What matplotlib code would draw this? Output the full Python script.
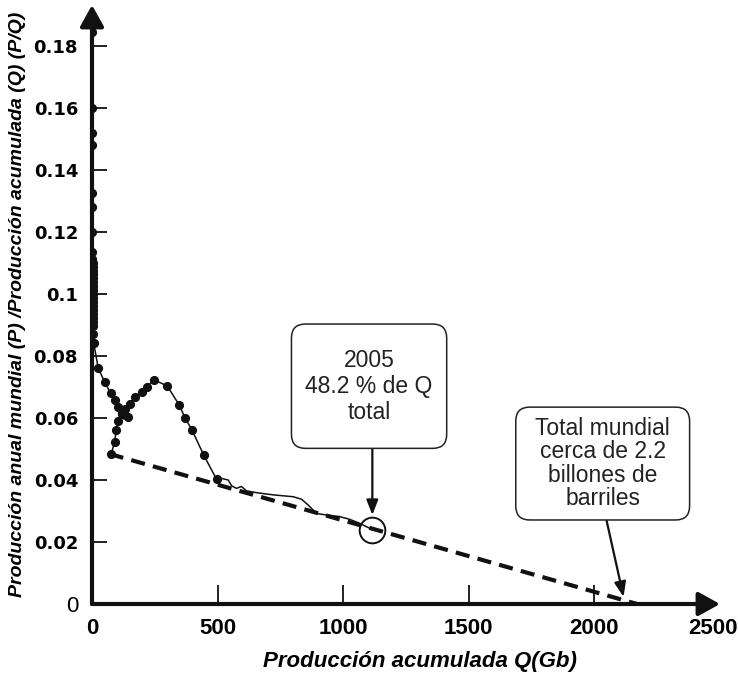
import matplotlib
matplotlib.use('Agg')
import matplotlib.pyplot as plt
import matplotlib.transforms as mtransforms
from matplotlib.patches import FancyBboxPatch
from matplotlib.font_manager import FontProperties

# early years: tiny cumulative output, points stacked along the vertical axis
q_early = [0.2, 0.4, 0.6, 0.8, 1.0, 1.2, 1.4, 1.6, 1.8, 2.0, 2.2, 2.4, 2.6, 2.8,
           3.0, 3.2, 3.4, 3.6, 3.8, 4.0, 4.2, 4.4, 4.6, 4.8, 5.0, 5.3, 5.8, 6.4,
           25, 50, 74, 90, 103, 118, 132, 145]
pq_early = [0.1845, 0.160, 0.152, 0.148, 0.1326, 0.128, 0.120, 0.1135, 0.1114,
            0.1101, 0.1088, 0.1075, 0.1064, 0.1051, 0.1038, 0.1025, 0.1012,
            0.0999, 0.0986, 0.0973, 0.0960, 0.0947, 0.0934, 0.0922, 0.0909,
            0.0897, 0.0871, 0.0843,
            0.0760, 0.0717, 0.0680, 0.0658, 0.0637, 0.0617, 0.0608, 0.0602]

# later series with yearly markers
q_marked = [77, 90, 97, 104, 118, 130, 150, 171, 198, 218, 247, 300, 347, 370,
            398, 445, 496]
pq_marked = [0.0484, 0.0524, 0.0561, 0.0590, 0.0612, 0.0628, 0.0644, 0.0667,
             0.0685, 0.0700, 0.0723, 0.0703, 0.0642, 0.0601, 0.0561, 0.0480,
             0.0402]

# most recent years, plain line up to 2005
q_recent = [496, 516, 542, 556, 575, 595, 615, 655, 721, 801, 834, 861, 894,
            933, 986, 1026, 1066, 1106, 1116]
pq_recent = [0.0402, 0.0405, 0.0400, 0.0381, 0.0373, 0.0379, 0.0365, 0.0359,
             0.0352, 0.0346, 0.0338, 0.0319, 0.0292, 0.0287, 0.0282, 0.0273,
             0.0260, 0.0244, 0.0239]

# straight-line fit of P/Q against Q
q_fit = [70, 2170]
pq_fit = [0.0484, 0.0]

q_2005 = 1116
pq_2005 = 0.0239

x_ticks = [0, 500, 1000, 1500, 2000, 2500]
x_tick_labels = ['0', '500', '1000', '1500', '2000', '2500']
y_ticks = [0, 0.02, 0.04, 0.06, 0.08, 0.1, 0.12, 0.14, 0.16, 0.18]
y_tick_labels = ['0', '0.02', '0.04', '0.06', '0.08', '0.1', '0.12', '0.14',
                 '0.16', '0.18']

narrow = ['Liberation Sans Narrow', 'Liberation Sans', 'DejaVu Sans']
plain = ['Liberation Sans', 'DejaVu Sans']

fig = plt.figure(figsize=(7.38, 6.79), dpi=100)
ax = fig.add_axes([92 / 738, 75 / 679, 628 / 738, 599 / 679])
ax.set_xlim(0, 2500)
ax.set_ylim(0, 0.1932)
for s in ax.spines.values():
    s.set_visible(False)

# axes drawn as heavy arrows
arrow_kw = dict(arrowstyle='-|>,head_length=0.65,head_width=0.36', lw=3,
                color='#111111', mutation_scale=20, shrinkA=0, shrinkB=0)
ax.annotate('', xy=(1, 0), xytext=(0, 0), xycoords='axes fraction',
            arrowprops=arrow_kw, zorder=5)
ax.annotate('', xy=(0, 1), xytext=(0, 0), xycoords='axes fraction',
            arrowprops=arrow_kw, zorder=5)

ax.plot(q_fit, pq_fit, color='#111111', lw=3, ls=(0, (3.4, 2.0)), zorder=2)
ax.plot(q_early, pq_early, color='#111111', lw=1.1, marker='o', ms=5.6,
        zorder=6)
ax.plot(q_marked, pq_marked, color='#111111', lw=1.1, marker='o', ms=5.6,
        zorder=3)
ax.plot(q_recent, pq_recent, color='#111111', lw=1.1, zorder=3)
ax.plot([q_2005], [pq_2005], marker='o', ms=18.5, mfc='none', mec='#111111',
        mew=1.4, zorder=4)

ax.set_xticks(x_ticks)
ax.set_xticklabels(x_tick_labels)
ax.set_yticks(y_ticks)
ax.set_yticklabels(y_tick_labels)
ax.tick_params(axis='x', direction='in', length=14, width=1.3, pad=10,
               color='#111111')
ax.tick_params(axis='y', direction='in', length=11, width=1.3, pad=10,
               color='#111111')
xt_font = FontProperties(family=narrow, weight='bold', size=16)
for t in ax.get_xticklabels():
    t.set_fontproperties(xt_font)
# keep the last label inside the canvas
last = ax.get_xticklabels()[-1]
last.set_transform(last.get_transform() +
                   mtransforms.ScaledTranslation(-7 / 100, 0, fig.dpi_scale_trans))
yt_font = FontProperties(family='DejaVu Sans', weight='bold', size=13)
for t in ax.get_yticklabels():
    t.set_fontproperties(yt_font)
ax.get_yticklabels()[0].set_fontproperties(
    FontProperties(family=narrow, weight='light', size=16))
xt = ax.xaxis.get_major_ticks()
xt[0].tick1line.set_visible(False)
xt[-1].tick1line.set_visible(False)
ax.yaxis.get_major_ticks()[0].tick1line.set_visible(False)

# rounded annotation boxes
fig.canvas.draw()
inv = ax.transData.inverted()
(x0, y0), (x1, y1) = inv.transform([(0, 0), (1, 1)])
aspect = (y1 - y0) / (x1 - x0)


def note_box(xa, xb, ya, yb, text, ls):
    box = FancyBboxPatch((xa, ya), xb - xa, yb - ya,
                         boxstyle='round,pad=0,rounding_size=%f' % (14 * (x1 - x0)),
                         mutation_aspect=aspect, fc='white', ec='#222222',
                         lw=1.1, zorder=7)
    ax.add_patch(box)
    ax.text((xa + xb) / 2, (ya + yb) / 2, text, ha='center', va='center',
            fontsize=16.5, family=plain, linespacing=ls, color='#222222',
            zorder=8)


note_box(794, 1412, 0.0502, 0.0903, '2005\n48.2 % de Q\ntotal', 1.17)
note_box(1687, 2379, 0.0271, 0.0635,
         'Total mundial\ncerca de 2.2\nbillones de\nbarriles', 1.02)

small_arrow = dict(arrowstyle='-|>,head_length=0.9,head_width=0.35', lw=1.6,
                   color='#111111', mutation_scale=10, shrinkA=0, shrinkB=0)
ax.annotate('', xy=(q_2005, 0.0287), xytext=(q_2005, 0.0502),
            arrowprops=small_arrow, zorder=6)
ax.annotate('', xy=(2116, 0.0023), xytext=(2048, 0.0271),
            arrowprops=small_arrow, zorder=6)

fig.text(420 / 738, 1 - 662 / 679, 'Producción acumulada Q(Gb)',
         ha='center', va='center', family=narrow, weight='bold',
         style='italic', fontsize=16)
fig.text(18 / 738, 1 - 304 / 679,
         'Producción anual mundial (P) /Producción acumulada (Q) (P/Q)',
         ha='center', va='center', rotation=90, family=narrow, weight='bold',
         style='italic', fontsize=14)

fig.savefig('out.png', dpi=100)
